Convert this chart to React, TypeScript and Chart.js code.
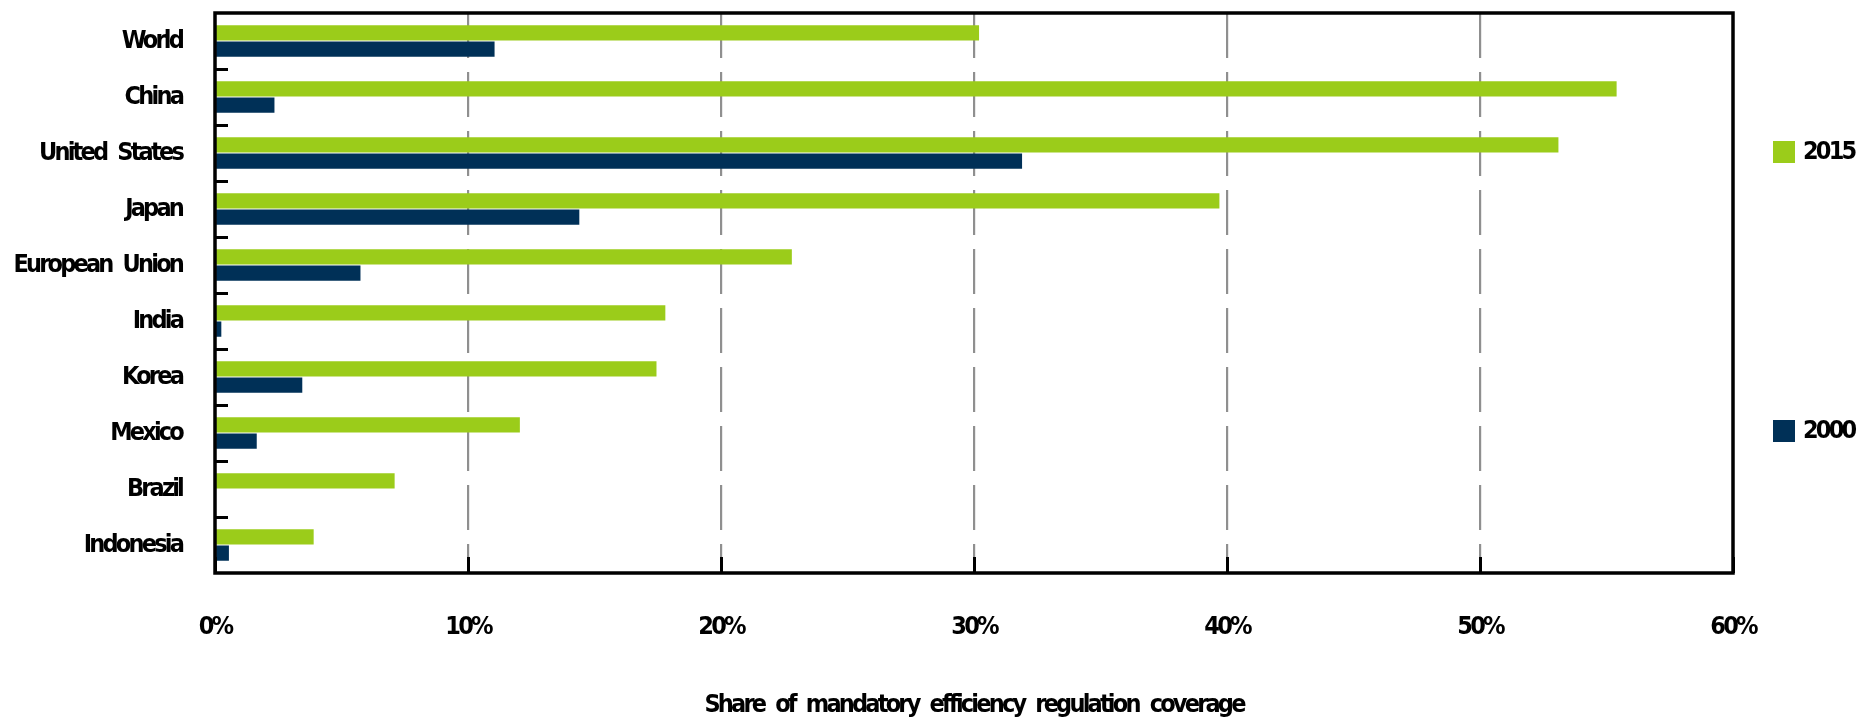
import React, { useEffect, useRef } from 'react';
import { Chart, registerables } from 'chart.js';

Chart.register(...registerables);

const categories = ['World', 'China', 'United States', 'Japan', 'European Union', 'India', 'Korea', 'Mexico', 'Brazil', 'Indonesia'];
const series2015 = [30.2, 55.4, 53.1, 39.7, 22.8, 17.8, 17.45, 12.05, 7.1, 3.9];
const series2000 = [11.05, 2.35, 31.9, 14.4, 5.75, 0.25, 3.45, 1.65, 0, 0.55];
const seriesNames = ['2015', '2000'];
const seriesColors = ['#9BCC1A', '#003057'];
const xTickValues = [0, 10, 20, 30, 40, 50, 60];
const axisTitle = 'Share of mandatory efficiency regulation coverage';

const FONT = "'DejaVu Sans Condensed', 'DejaVu Sans', sans-serif";
const LETTER_SPACING = '-2.8px';
const WORD_SPACING = '6px';

const tightTextPlugin = {
  id: 'tightText',
  beforeDraw(chart: any) {
    (chart.ctx as any).letterSpacing = LETTER_SPACING;
    (chart.ctx as any).wordSpacing = WORD_SPACING;
  },
};

const framePlugin = {
  id: 'frameAndLegend',
  afterDraw(chart: any) {
    const { ctx, chartArea: a, scales } = chart;
    const xs = scales.x;
    const ys = scales.y;
    ctx.save();
    ctx.strokeStyle = '#000';
    ctx.lineWidth = 3;
    // category separator ticks on the left axis (inside)
    for (let i = 1; i < categories.length; i++) {
      const py = Math.round((ys.getPixelForValue(i - 1) + ys.getPixelForValue(i)) / 2) + 0.5;
      ctx.beginPath();
      ctx.moveTo(a.left, py);
      ctx.lineTo(a.left + 13, py);
      ctx.stroke();
    }
    // value ticks on the bottom axis (inside)
    for (const t of xTickValues) {
      const px = Math.round(xs.getPixelForValue(t)) + 0.5;
      ctx.beginPath();
      ctx.moveTo(px, a.bottom);
      ctx.lineTo(px, a.bottom - 16);
      ctx.stroke();
    }
    // frame
    ctx.lineWidth = 3.5;
    ctx.strokeRect(a.left, a.top, a.right - a.left, a.bottom - a.top);
    // legend
    const legendY = [152, 431];
    chart.data.datasets.forEach((ds: any, i: number) => {
      const cy = legendY[i];
      ctx.fillStyle = ds.backgroundColor;
      ctx.fillRect(1773, cy - 11, 22, 22);
      ctx.fillStyle = '#000';
      ctx.font = `bold 25px ${FONT}`;
      ctx.textAlign = 'left';
      ctx.textBaseline = 'middle';
      ctx.fillText(ds.label, 1803, cy);
    });
    ctx.restore();
  },
};

export default function App() {
  const canvasRef = useRef<HTMLCanvasElement | null>(null);

  useEffect(() => {
    document.body.style.margin = '0';
    const canvas = canvasRef.current;
    if (!canvas) return;
    Chart.defaults.font.family = FONT;
    Chart.defaults.color = '#000';
    const chart = new Chart(canvas, {
      type: 'bar',
      data: {
        labels: categories,
        datasets: [
          {
            label: seriesNames[0],
            data: series2015,
            backgroundColor: seriesColors[0],
            borderWidth: 0,
            categoryPercentage: 0.58,
            barPercentage: 0.94,
          },
          {
            label: seriesNames[1],
            data: series2000,
            backgroundColor: seriesColors[1],
            borderWidth: 0,
            categoryPercentage: 0.58,
            barPercentage: 0.94,
          },
        ],
      },
      options: {
        indexAxis: 'y',
        responsive: false,
        animation: false,
        layout: { padding: { top: 13, right: 128, left: 0, bottom: 0 } },
        plugins: {
          legend: { display: false },
          tooltip: { enabled: false },
        },
        scales: {
          x: {
            min: 0,
            max: 60,
            afterFit: (s: any) => { s.height = 151; },
            afterBuildTicks: (s: any) => { s.ticks = xTickValues.map((v) => ({ value: v })); },
            ticks: {
              callback: (v: any) => `${v}%`,
              font: { size: 25, weight: 'bold', lineHeight: 1 },
              color: '#000',
              padding: 42,
              maxRotation: 0,
            },
            grid: {
              drawTicks: false,
              lineWidth: 2.2,
              color: (c: any) => (c.tick && (c.tick.value === 0 || c.tick.value === 60) ? 'rgba(0,0,0,0)' : '#8f8f8f'),
            },
            border: { display: false, dash: [45, 14] },
            title: {
              display: true,
              text: axisTitle,
              font: { size: 25, weight: 'bold', lineHeight: 1.2 },
              color: '#000',
              padding: { top: 0, bottom: 4 },
            },
          },
          y: {
            afterFit: (s: any) => { s.width = 215; },
            ticks: {
              font: { size: 25, weight: 'bold', lineHeight: 1 },
              color: '#000',
              padding: 0,
            },
            grid: {
              display: true,
              drawOnChartArea: false,
              drawTicks: true,
              tickLength: 33,
              color: 'rgba(0,0,0,0)',
            },
            border: { display: false },
          },
        },
      },
      plugins: [tightTextPlugin, framePlugin],
    } as any);
    return () => chart.destroy();
  }, []);

  return (
    <div style={{ width: 1861, height: 724 }}>
      <canvas ref={canvasRef} width={1861} height={724} style={{ display: 'block' }} />
    </div>
  );
}
